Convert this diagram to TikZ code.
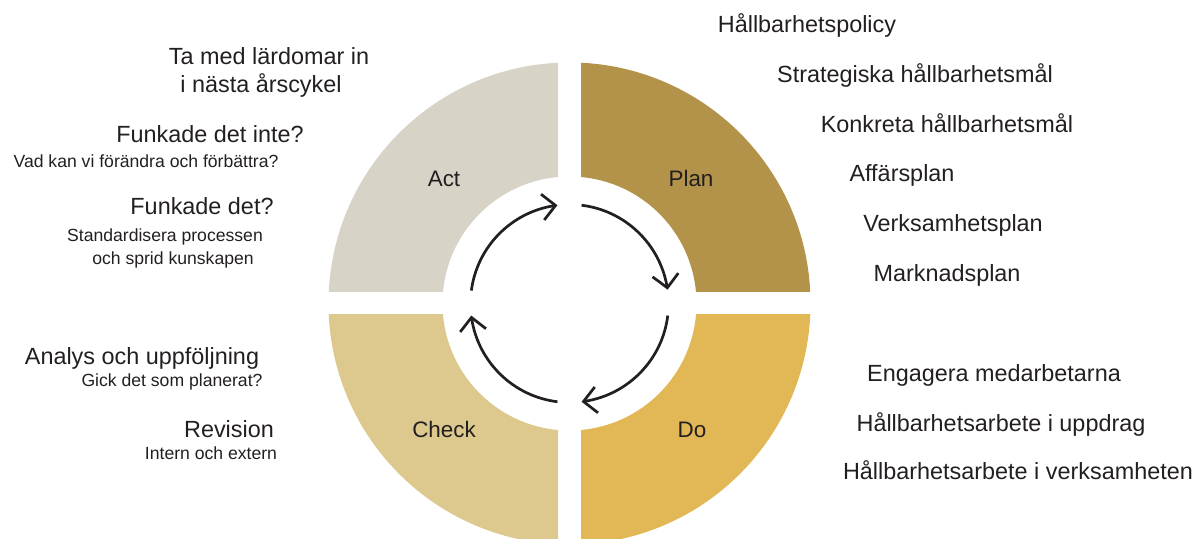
\documentclass[tikz,border=0pt]{standalone}
\usepackage{fontspec}
\setmainfont{Liberation Sans}
\usetikzlibrary{arrows.meta,bending}

\definecolor{actcol}{RGB}{216,211,199}
\definecolor{plancol}{RGB}{179,146,74}
\definecolor{checkcol}{RGB}{221,200,141}
\definecolor{docol}{RGB}{226,184,86}
\definecolor{txtcol}{RGB}{35,31,32}

\tikzset{
  bigtxt/.style={anchor=base,text=txtcol,inner sep=0pt,font=\fontsize{11.7}{14}\selectfont},
  smalltxt/.style={anchor=base,text=txtcol,inner sep=0pt,font=\fontsize{8.8}{10.5}\selectfont},
  quadlbl/.style={anchor=base,text=txtcol,inner sep=0pt,font=\fontsize{11.2}{13}\selectfont},
  cyc/.style={line width=1.35pt,draw=txtcol,-{Straight Barb[length=6.5pt,width=13pt,flex]}},
}

\begin{document}
\begin{tikzpicture}[x=0.5pt,y=0.5pt]

\useasboundingbox (0,0) rectangle (1192,539);
\coordinate (c) at (569.5,235.5);

% quadrants
\begin{scope}
\clip ([shift={(11.5,11.5)}]c) rectangle ++(260,260);
\fill[plancol,even odd rule] (c) circle[radius=241] (c) circle[radius=127];
\end{scope}
\begin{scope}
\clip ([shift={(-11.5,11.5)}]c) rectangle ++(-260,260);
\fill[actcol,even odd rule] (c) circle[radius=241] (c) circle[radius=127];
\end{scope}
\begin{scope}
\clip ([shift={(11.5,-11.5)}]c) rectangle ++(260,-260);
\fill[docol,even odd rule] (c) circle[radius=241] (c) circle[radius=127];
\end{scope}
\begin{scope}
\clip ([shift={(-11.5,-11.5)}]c) rectangle ++(-260,-260);
\fill[checkcol,even odd rule] (c) circle[radius=241] (c) circle[radius=127];
\end{scope}

\node[quadlbl] (act) at (444,352) {Act};
\node[quadlbl] (plan) at (691,352) {Plan};
\node[quadlbl] (check) at (444,101) {Check};
\node[quadlbl] (do) at (692,101) {Do};

% cycle arrows
\draw[cyc] ([shift={(83:99)}]c) arc[start angle=83,end angle=8,radius=99];
\draw[cyc] ([shift={(-7:99)}]c) arc[start angle=-7,end angle=-83,radius=99];
\draw[cyc] ([shift={(263:99)}]c) arc[start angle=263,end angle=187,radius=99];
\draw[cyc] ([shift={(172.5:99)}]c) arc[start angle=172.5,end angle=97,radius=99];

% Act side
\node[bigtxt] (lard1) at (269,474) {Ta med lärdomar in};
\node[bigtxt] (lard2) at (261,446) {i nästa årscykel};
\node[bigtxt] (inte) at (210,396) {Funkade det inte?};
\node[smalltxt] (forandra) at (146,371) {Vad kan vi förändra och förbättra?};
\node[bigtxt] (funkade) at (202,324) {Funkade det?};
\node[smalltxt] (stand1) at (165,297) {Standardisera processen};
\node[smalltxt] (stand2) at (173,274) {och sprid kunskapen};

% Plan side
\node[bigtxt] (policy) at (807,506) {Hållbarhetspolicy};
\node[bigtxt] (strat) at (915,456) {Strategiska hållbarhetsmål};
\node[bigtxt] (konkr) at (947,406) {Konkreta hållbarhetsmål};
\node[bigtxt] (affar) at (902,357) {Affärsplan};
\node[bigtxt] (verks) at (953,307) {Verksamhetsplan};
\node[bigtxt] (mark) at (947,257) {Marknadsplan};

% Check side
\node[bigtxt] (analys) at (142,174) {Analys och uppföljning};
\node[smalltxt] (gick) at (172,152) {Gick det som planerat?};
\node[bigtxt] (rev) at (229,101) {Revision};
\node[smalltxt] (intern) at (211,79) {Intern och extern};

% Do side
\node[bigtxt] (engag) at (994,157) {Engagera medarbetarna};
\node[bigtxt] (uppdr) at (1001,107) {Hållbarhetsarbete i uppdrag};
\node[bigtxt] (verkh) at (1018,59) {Hållbarhetsarbete i verksamheten};

\end{tikzpicture}
\end{document}
